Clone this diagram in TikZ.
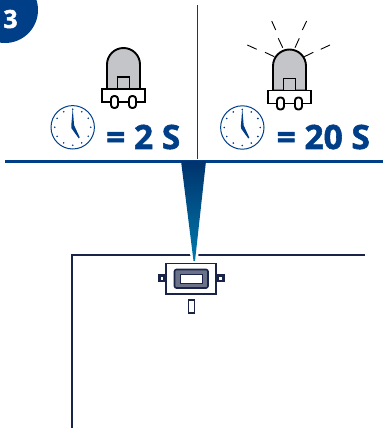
\documentclass[tikz,border=0pt]{standalone}
\usepackage{fontspec}
\setmainfont{Open Sans}[BoldFeatures={FakeBold=1.6}]
\usepackage{xcolor}
\usetikzlibrary{calc}

\definecolor{navy}{HTML}{003F87}
\definecolor{wall}{HTML}{1A2448}
\definecolor{ledgrey}{HTML}{C4C5C8}

\tikzset{
	label text/.style = {font = \bfseries\fontsize{33.5}{33.5}\selectfont, text = navy, inner sep = 0pt},
	led line/.style = {draw = black, line width = 1.9pt},
	ray/.style = {black, line width = 0.9pt},
	wall line/.style = {wall, line width = 1.7pt},
	pics/led/.style = {code = {
		\draw [led line, fill = ledgrey] (-16.5,41) -- (-16.5,16.5) arc [start angle = 180, end angle = 0, radius = 16.5pt] -- (16.5,41) -- cycle;
		\draw [led line, fill = ledgrey] (-6,41) rectangle (6,29);
		\draw [led line, fill = white] (-21.5,41) rectangle (21.5,54);
		\draw [led line, fill = white, rounded corners = 3pt] (-12.5,48) rectangle (-5.5,60);
		\draw [led line, fill = white, rounded corners = 3pt] (5.5,48) rectangle (12.5,60);
	}},
	pics/clock/.style = {code = {
		\draw [navy, line width = 1pt] (0,0) circle [radius = 21.7pt];
		\foreach \a in {30,60,...,360} {
			\fill [navy] (\a:18pt) circle [radius = 0.9pt];
		}
		\fill [navy] (-1.4,-2) -- (0,-19) -- (1.4,-2) -- (7,10) -- (6,11) -- (-1.2,1) -- cycle;
	}},
}

\begin{document}
\begin{tikzpicture}[x = 1pt, y = -1pt]
	\clip (0,0) rectangle (383,430);
	\fill [white] (0,0) rectangle (383,430);

	% badge
	\fill [navy] (5,10) circle [radius = 33pt];
	\node [font = \bfseries\fontsize{25}{25}\selectfont, text = white, anchor = base, inner sep = 0pt] (badge) at (10.5,28) {3};

	% top panel
	\draw [navy, line width = 1pt] (197,5) -- (197,159);
	\draw [navy, line width = 2.6pt] (5,161.5) -- (383,161.5);

	% wall outline
	\draw [wall line] (72,428) -- (72,255) -- (365,255);

	% pointer
	\fill [white] (189,250) -- (199,250) -- (197,266) -- (193,266) -- cycle;
	\shade [top color = navy!80!black, bottom color = navy!70!cyan] (181,161) -- (206,161) -- (195,261) -- (193.5,261) -- cycle;

	% leds
	\pic at (123.5,48) {led};
	\pic at (289.5,49.5) {led};
	\foreach \xa/\ya/\xb/\yb in {247.3/45/256.7/49.3, 265/52.3/274.3/56.7, 271.7/21/275.7/30, 278.3/38.3/282.7/47.7, 306.7/21/302.3/30, 299.3/38.3/295/47.7, 330/45/320.7/49.3, 313.3/52.3/304.3/56.7} {
		\draw [ray] (\xa,\ya) -- (\xb,\yb);
	}

	% clocks
	\pic at (72.7,127.3) {clock};
	\pic at (242.3,127.5) {clock};

	% durations
	\node [label text, anchor = base west] (short time) at (106,149) {= 2 S};
	\node [label text, anchor = base west] (long time) at (276.5,149) {= 20 S};

	% socket
	\fill [wall] (158,274) rectangle (166,282);
	\fill [wall] (216,274) rectangle (225,282);
	\fill [white] (160.5,276.5) rectangle (163,279.5);
	\fill [white] (219,276.5) rectangle (221.5,279.5);
	\draw [wall, line width = 1.6pt, fill = white] (166,263.5) rectangle (216,294);
	\draw [wall, line width = 1.6pt, fill = wall!65!white, rounded corners = 2pt] (174.5,269.5) rectangle (208,288);
	\draw [wall, line width = 1pt, fill = white] (180,274) rectangle (202,283);
	\draw [wall, line width = 1.3pt] (188.5,300) rectangle (194.5,313);
\end{tikzpicture}
\end{document}
